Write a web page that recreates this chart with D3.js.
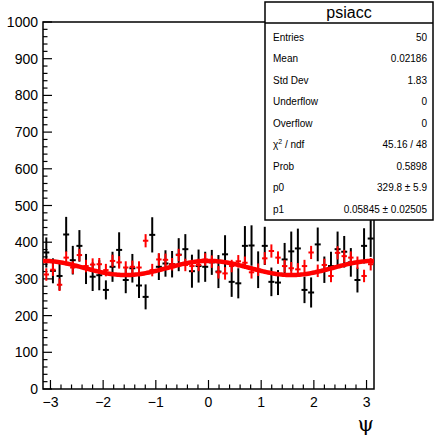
<!DOCTYPE html>
<html><head><meta charset="utf-8">
<script src="https://cdn.jsdelivr.net/npm/d3@7/dist/d3.min.js"></script>
<style>
html,body{margin:0;padding:0;background:#fff;}
svg{display:block;font-family:"Liberation Sans",Arial,Helvetica,sans-serif;}
</style></head>
<body><svg id="c" width="434" height="437"></svg>
<script>
// ---- data ----
const nBins = 50;
const blackVals = [372,322,308,421,351,390,327,306,310,270,333,379,297,329,282,251,420,333,342,340,
                   366,381,321,335,333,345,320,367,292,288,390,391,325,390,292,290,353,375,383,270,
                   263,394,325,335,381,374,345,297,390,410];
const blackErr  = [41,34,39,48,39,43,41,39,41,26,41,48,36,39,34,34,48,36,36,36,
                   45,41,45,45,41,34,45,52,41,41,54,55,50,52,39,34,45,54,54,36,
                   41,46,36,39,48,43,39,34,48,50];
const redVals   = [312,325,284,358,331,365,335,339,340,324,349,345,331,333,331,404,324,353,352,340,
                   365,338,335,338,353,347,318,315,335,348,344,318,325,356,376,358,335,329,326,335,
                   372,322,338,308,371,362,358,344,308,340];
const redErr    = [17,17,17,17,17,17,17,17,17,17,17,17,17,17,17,18,17,17,17,17,
                   17,17,17,17,17,17,17,17,17,17,17,17,17,17,18,17,17,17,17,17,
                   18,17,17,17,18,17,17,17,17,17];
const fitP0 = 329.8, fitP1 = 0.05845;
const yTicks = [0,100,200,300,400,500,600,700,800,900,1000];
const xTicks = [-3,-2,-1,0,1,2,3];
const statTitle = "psiacc";
const statRows = [
  ["Entries","50"],["Mean","0.02186"],["Std Dev","1.83"],["Underflow","0"],["Overflow","0"],
  ["CHI","45.16 / 48"],["Prob","0.5898"],["p0","329.8 \u00b1 5.9"],["p1","0.05845 \u00b1 0.02505"]
];

// ---- layout ----
const L=43,R=374,T=22,B=389;
const svg=d3.select("#c");
const x=d3.scaleLinear().domain([-Math.PI,Math.PI]).range([L,R]);
const y=d3.scaleLinear().domain([0,1000]).range([B,T]);
const bw=2*Math.PI/nBins;
const centers=d3.range(nBins).map(i=>-Math.PI+(i+0.5)*bw);

// frame
svg.append("rect").attr("x",L).attr("y",T).attr("width",R-L).attr("height",B-T)
  .attr("fill","none").attr("stroke","#000").attr("stroke-width",1.5);

// y ticks
const yMinor=d3.range(0,1001,20);
svg.append("g").selectAll("line").data(yMinor).join("line")
  .attr("x1",L).attr("x2",d=>L+(d%100===0?9:4.5))
  .attr("y1",d=>y(d)).attr("y2",d=>y(d)).attr("stroke","#000").attr("stroke-width",1.2);
svg.append("g").selectAll("text").data(yTicks).join("text")
  .attr("x",38).attr("y",d=>y(d)+5).attr("text-anchor","end")
  .attr("font-size",14).text(d=>d);

// x ticks
const xMinor=d3.range(-3.0,3.01,0.2).map(v=>Math.round(v*10)/10);
svg.append("g").selectAll("line").data(xMinor).join("line")
  .attr("x1",d=>x(d)).attr("x2",d=>x(d))
  .attr("y1",B).attr("y2",d=>B-(Math.abs(d-Math.round(d))<1e-6?9:4.5))
  .attr("stroke","#000").attr("stroke-width",1.2);
svg.append("g").selectAll("text").data(xTicks).join("text")
  .attr("x",d=>x(d)).attr("y",407).attr("text-anchor","middle")
  .attr("font-size",14).text(d=>d<0?"\u2212"+Math.abs(d):d);
svg.append("text").attr("x",374).attr("y",431).attr("text-anchor","end")
  .attr("font-size",21).attr("font-family","'DejaVu Serif',serif").text("\u03c8");

// clip to frame
svg.append("clipPath").attr("id","fr").append("rect")
  .attr("x",L).attr("y",T).attr("width",R-L).attr("height",B-T);
const plot=svg.append("g").attr("clip-path","url(#fr)");

function drawErr(vals,errs,color,hw,sw){
  const g=plot.append("g").attr("stroke",color).attr("stroke-width",sw);
  g.selectAll(".v").data(vals).join("line")
    .attr("x1",(d,i)=>x(centers[i])).attr("x2",(d,i)=>x(centers[i]))
    .attr("y1",(d,i)=>y(d-errs[i])).attr("y2",(d,i)=>y(d+errs[i]));
  g.selectAll(".h").data(vals).join("line")
    .attr("x1",(d,i)=>x(centers[i])-hw).attr("x2",(d,i)=>x(centers[i])+hw)
    .attr("y1",d=>y(d)).attr("y2",d=>y(d));
}
drawErr(blackVals,blackErr,"#000",3,2);
drawErr(redVals,redErr,"#ff0000",2.7,2);

// fit curve from the displayed parameters p0, p1
const fitX=d3.range(0,201).map(i=>-Math.PI+i*(2*Math.PI/200));
plot.append("path").datum(fitX)
  .attr("d",d3.line().x(d=>x(d)).y(d=>y(fitP0*(1+fitP1*Math.cos(2*d)))))
  .attr("fill","none").attr("stroke","#ff0000").attr("stroke-width",4.5);

// stats box
const sx=265,sy=2,sw=168,sh=218;
svg.append("rect").attr("x",sx).attr("y",sy).attr("width",sw).attr("height",sh)
  .attr("fill","#fff").attr("stroke","#000").attr("stroke-width",1.5);
svg.append("line").attr("x1",sx).attr("x2",sx+sw).attr("y1",23).attr("y2",23)
  .attr("stroke","#000").attr("stroke-width",1.5);
svg.append("text").attr("x",sx+sw/2).attr("y",18).attr("text-anchor","middle")
  .attr("font-size",16).text(statTitle);
const rows=svg.append("g").attr("font-size",10);
statRows.forEach((r,i)=>{
  const by=37+21.5*i+3.5;
  const t=rows.append("text").attr("x",273).attr("y",by);
  if(r[0]==="CHI"){
    t.append("tspan").text("\u03c7");
    t.append("tspan").attr("dy",-4).attr("font-size",7).text("2");
    t.append("tspan").attr("dy",4).text(" / ndf");
  } else t.text(r[0]);
  rows.append("text").attr("x",427).attr("y",by).attr("text-anchor","end").text(r[1]);
});
</script></body></html>
